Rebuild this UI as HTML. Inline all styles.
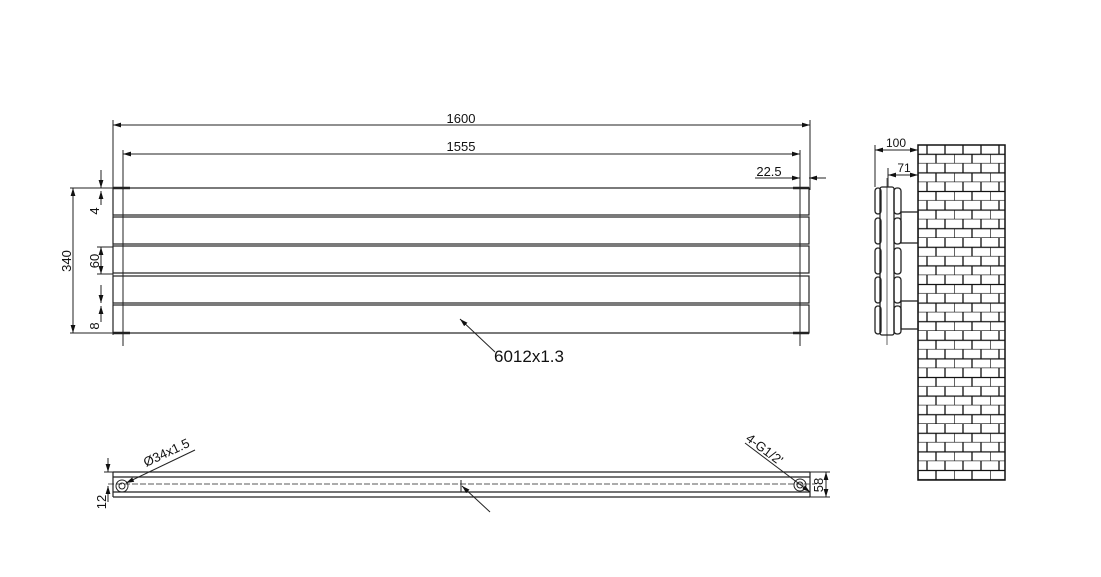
<!DOCTYPE html>
<html><head><meta charset="utf-8"><style>html,body{margin:0;padding:0;background:#fff}svg{display:block}</style></head>
<body>
<svg width="1101" height="577" viewBox="0 0 1101 577" xmlns="http://www.w3.org/2000/svg" font-family="Liberation Sans, sans-serif" fill="none" stroke="#222" stroke-width="1">
<defs>
<marker id="a" viewBox="0 0 10 6" refX="10" refY="3" markerWidth="8" markerHeight="5" orient="auto-start-reverse"><path d="M0,0L10,3L0,6z" fill="#111" stroke="none"/></marker>
<pattern id="brick" x="918" y="145" width="36" height="18.6" patternUnits="userSpaceOnUse">
<rect width="36" height="18.6" fill="#fff" stroke="none"/>
<path d="M0,9.3H36M0,18.6H36M9,0V9.3M27,0V9.3M0,9.3V18.6M18,9.3V18.6" stroke="#111" stroke-width="1.3"/>
</pattern>
</defs>
<!-- top dims -->
<line x1="113" y1="125" x2="810" y2="125" marker-start="url(#a)" marker-end="url(#a)"/>
<line x1="113" y1="120" x2="113" y2="335"/>
<line x1="810" y1="120" x2="810" y2="190"/>
<text x="461" y="123" font-size="13" fill="#111" stroke="none" text-anchor="middle">1600</text>
<line x1="123" y1="154" x2="800" y2="154" marker-start="url(#a)" marker-end="url(#a)"/>
<line x1="123" y1="150" x2="123" y2="346"/>
<line x1="800" y1="150" x2="800" y2="346"/>
<text x="461" y="151" font-size="13" fill="#111" stroke="none" text-anchor="middle">1555</text>
<line x1="755" y1="178" x2="800" y2="178" marker-end="url(#a)"/>
<line x1="826" y1="178" x2="809" y2="178" marker-end="url(#a)"/>
<text x="769" y="176" font-size="13" fill="#111" stroke="none" text-anchor="middle">22.5</text>
<!-- panels -->
<g stroke-width="1.2">
<rect x="113" y="188" width="696" height="27"/>
<rect x="113" y="217" width="696" height="27"/>
<rect x="113" y="246" width="696" height="27"/>
<rect x="113" y="276" width="696" height="27"/>
<rect x="113" y="305" width="696" height="28"/>
</g>
<path d="M113,188H130M113,333H130M793,188H809M793,333H809" stroke-width="2.5"/>
<!-- left dims -->
<line x1="70" y1="188" x2="120" y2="188"/><line x1="70" y1="333" x2="120" y2="333"/>
<line x1="73" y1="188" x2="73" y2="333" marker-start="url(#a)" marker-end="url(#a)"/>
<text transform="translate(71,261) rotate(-90)" font-size="13" fill="#111" stroke="none" text-anchor="middle">340</text>
<line x1="101" y1="170" x2="101" y2="188" marker-end="url(#a)"/><line x1="101" y1="205" x2="101" y2="191" marker-end="url(#a)"/>
<text transform="translate(99,211) rotate(-90)" font-size="13" fill="#111" stroke="none" text-anchor="middle">4</text>
<line x1="97" y1="247" x2="113" y2="247"/><line x1="97" y1="274" x2="113" y2="274"/>
<line x1="101" y1="247" x2="101" y2="274" marker-start="url(#a)" marker-end="url(#a)"/>
<text transform="translate(99,261) rotate(-90)" font-size="13" fill="#111" stroke="none" text-anchor="middle">60</text>
<line x1="101" y1="285" x2="101" y2="303" marker-end="url(#a)"/><line x1="101" y1="322" x2="101" y2="306" marker-end="url(#a)"/>
<text transform="translate(99,326) rotate(-90)" font-size="13" fill="#111" stroke="none" text-anchor="middle">8</text>
<!-- leader 6012 -->
<line x1="495" y1="352" x2="460" y2="319" marker-end="url(#a)"/>
<text x="494" y="362" font-size="17" fill="#111" stroke="none">6012x1.3</text>
<!-- side view -->
<rect x="918" y="145" width="87" height="335" fill="url(#brick)" stroke="#111" stroke-width="1.5"/>
<line x1="875" y1="145" x2="875" y2="187"/>
<line x1="875" y1="150" x2="918" y2="150" marker-start="url(#a)" marker-end="url(#a)"/>
<text x="896" y="147" font-size="12" fill="#111" stroke="none" text-anchor="middle">100</text>
<line x1="888" y1="168" x2="888" y2="187"/>
<line x1="888" y1="175" x2="918" y2="175" marker-start="url(#a)" marker-end="url(#a)"/>
<text x="904" y="172" font-size="12" fill="#111" stroke="none" text-anchor="middle">71</text>
<g stroke-width="1.3">
<rect x="880" y="187" width="14" height="148" rx="2"/>
<rect x="875" y="188" width="6" height="26" rx="3"/><rect x="875" y="218" width="6" height="26" rx="3"/><rect x="875" y="248" width="6" height="26" rx="3"/><rect x="875" y="277" width="6" height="26" rx="3"/><rect x="875" y="306" width="6" height="28" rx="3"/>
<rect x="894" y="188" width="7" height="26" rx="3"/><rect x="894" y="218" width="7" height="26" rx="3"/><rect x="894" y="248" width="7" height="26" rx="3"/><rect x="894" y="277" width="7" height="26" rx="3"/><rect x="894" y="306" width="7" height="28" rx="3"/>
<rect x="901" y="212" width="17" height="31"/><rect x="901" y="301" width="17" height="28"/>
</g>
<line x1="887" y1="178" x2="887" y2="345" stroke-width="0.7"/>
<!-- bottom view -->
<g stroke-width="1.2">
<line x1="113" y1="472" x2="810" y2="472"/><line x1="113" y1="477" x2="810" y2="477"/>
<line x1="113" y1="492" x2="810" y2="492"/><line x1="113" y1="497" x2="810" y2="497"/>
<line x1="113" y1="472" x2="113" y2="497"/><line x1="810" y1="472" x2="810" y2="497"/>
</g>
<line x1="108" y1="484" x2="815" y2="484" stroke-dasharray="6,2" stroke-width="0.8"/>
<circle cx="122" cy="486" r="6"/><circle cx="122" cy="486" r="3"/>
<circle cx="800" cy="485" r="6"/><circle cx="800" cy="485" r="3"/>
<line x1="195" y1="450" x2="126" y2="483" marker-end="url(#a)"/>
<text transform="translate(146,467) rotate(-25)" font-size="13" fill="#111" stroke="none">Ø34x1.5</text>
<line x1="745" y1="443" x2="810" y2="492" marker-end="url(#a)"/>
<text transform="translate(745,440) rotate(37)" font-size="13" fill="#111" stroke="none">4-G1/2'</text>
<line x1="108" y1="458" x2="108" y2="472" marker-end="url(#a)"/>
<line x1="108" y1="502" x2="108" y2="486" marker-end="url(#a)"/>
<line x1="104" y1="472" x2="118" y2="472"/>
<text transform="translate(106,502) rotate(-90)" font-size="13" fill="#111" stroke="none" text-anchor="middle">12</text>
<line x1="810" y1="472" x2="830" y2="472"/><line x1="810" y1="497" x2="830" y2="497"/>
<line x1="826" y1="472" x2="826" y2="497" marker-start="url(#a)" marker-end="url(#a)"/>
<text transform="translate(823,485) rotate(-90)" font-size="13" fill="#111" stroke="none" text-anchor="middle">58</text>
<line x1="461" y1="480" x2="461" y2="492"/>
<line x1="490" y1="512" x2="462" y2="486" marker-end="url(#a)"/>
</svg>
</body></html>
